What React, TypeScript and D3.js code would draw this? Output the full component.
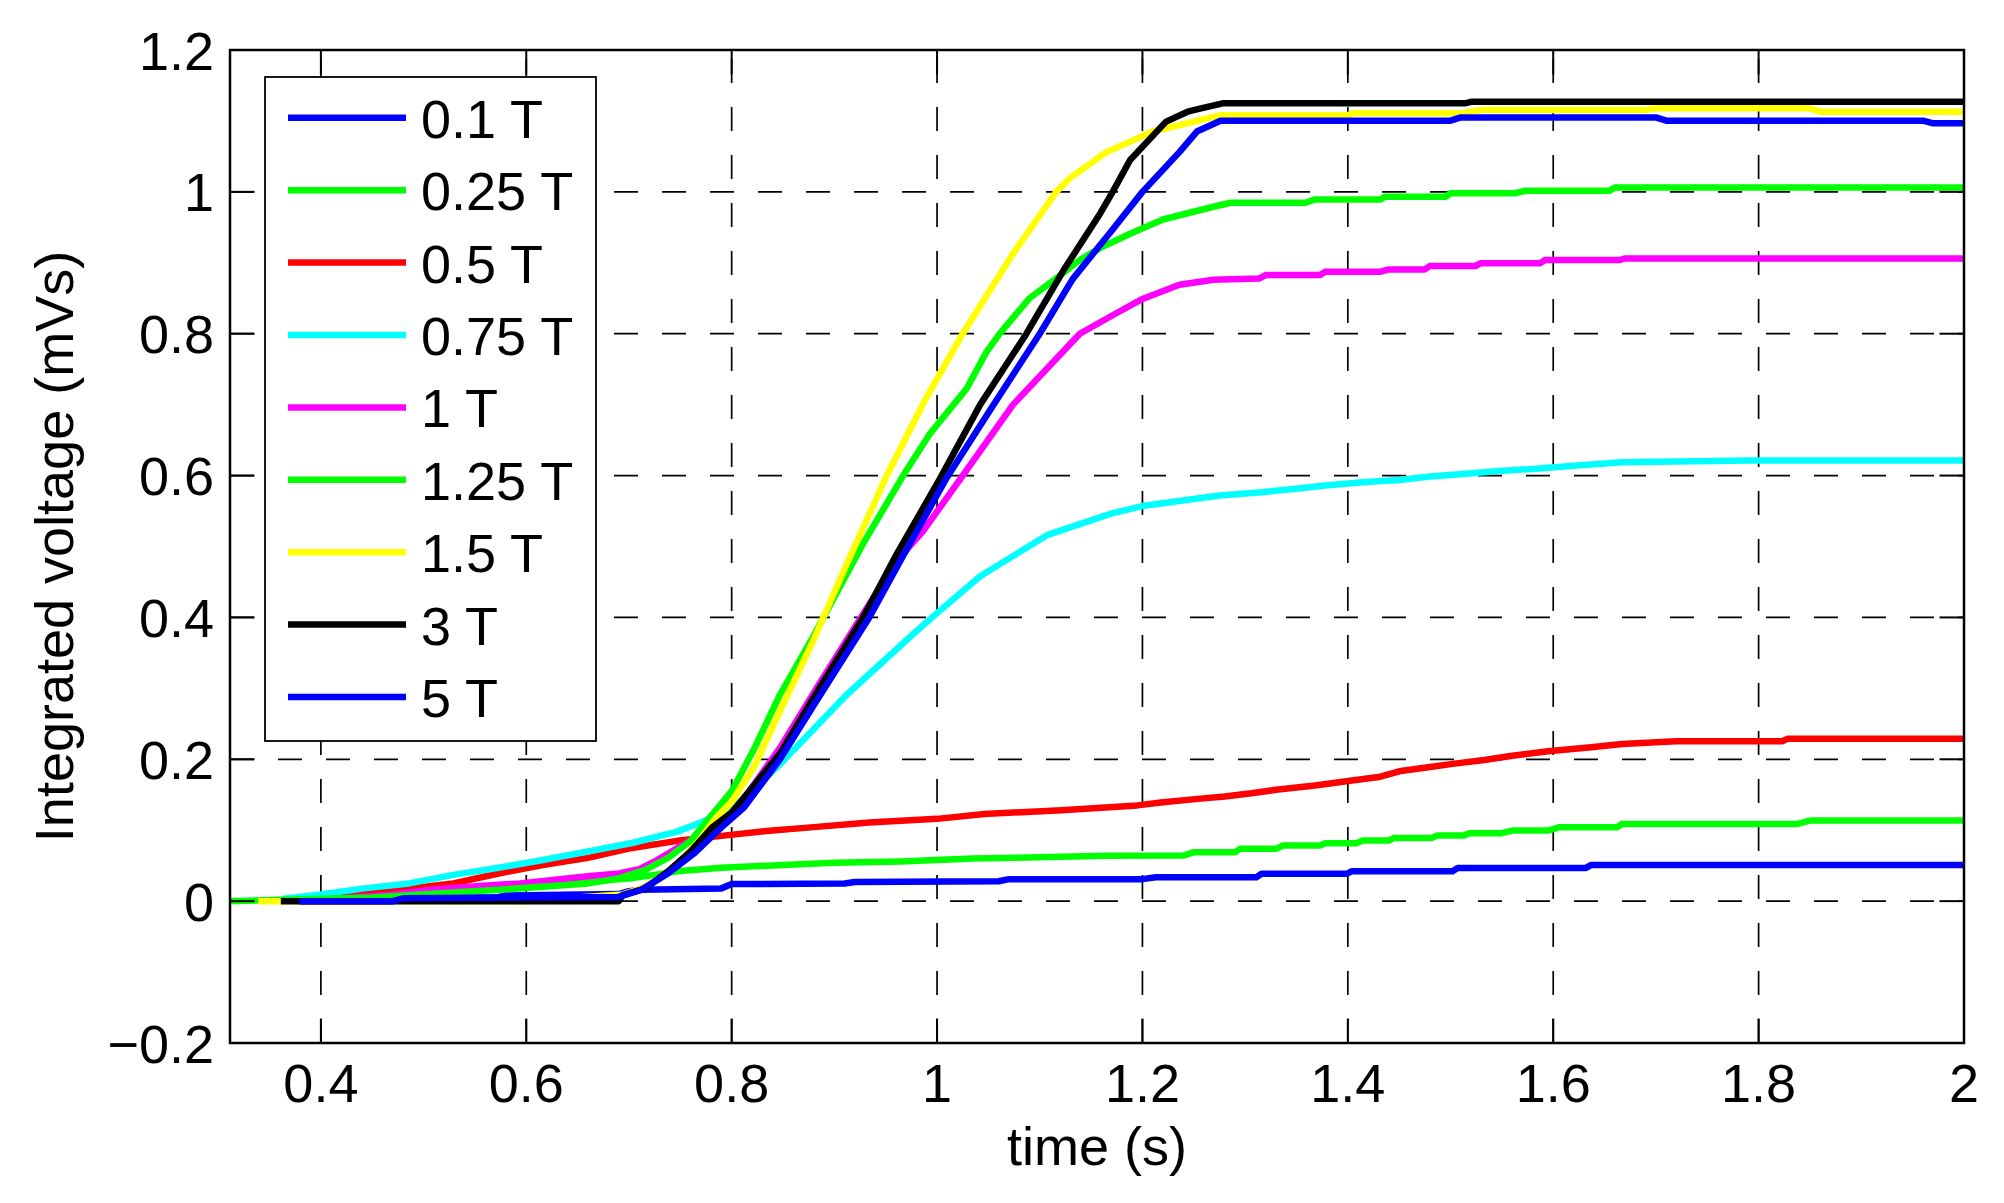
import React from "react";
import * as d3 from "d3";

// ---- data (time in s, integrated voltage in mVs) ----
const labels = ["0.1 T", "0.25 T", "0.5 T", "0.75 T", "1 T", "1.25 T", "1.5 T", "3 T", "5 T"];
const colors = ["#0000ff", "#00ff00", "#ff0000", "#00ffff", "#ff00ff", "#00ff00", "#ffff00", "#000000", "#0000ff"];

const s01: [number, number][] = [
  [0.38, 0], [0.47, 0], [0.475, 0.004], [0.57, 0.005], [0.58, 0.008], [0.69, 0.01], [0.70, 0.014],
  [0.712, 0.016], [0.79, 0.018], [0.8, 0.024], [0.91, 0.025], [0.92, 0.027], [1.06, 0.028], [1.07, 0.031],
  [1.2, 0.031], [1.213, 0.0338], [1.311, 0.0338], [1.316, 0.0385], [1.399, 0.0385], [1.404, 0.0422],
  [1.502, 0.0422], [1.507, 0.0469], [1.632, 0.0469], [1.637, 0.0511], [2.0, 0.0511],
];
const s025: [number, number][] = [
  [0.38, 0], [0.44, 0.0085], [0.53, 0.016], [0.62, 0.024], [0.7, 0.032], [0.725, 0.037], [0.747, 0.042],
  [0.79, 0.047], [0.834, 0.05], [0.9, 0.054], [0.964, 0.056], [1.035, 0.06], [1.165, 0.064], [1.24, 0.0643],
  [1.25, 0.069], [1.29, 0.069], [1.295, 0.0737], [1.33, 0.0737], [1.337, 0.0784], [1.373, 0.0784],
  [1.378, 0.0817], [1.409, 0.0817], [1.414, 0.0854], [1.44, 0.0854], [1.445, 0.0892], [1.482, 0.0892],
  [1.487, 0.0925], [1.513, 0.0925], [1.518, 0.0958], [1.55, 0.0958], [1.56, 0.0995], [1.595, 0.0995],
  [1.606, 0.1042], [1.662, 0.1042], [1.667, 0.1089], [1.838, 0.1089], [1.85, 0.1136], [2.0, 0.1136],
];
const s05: [number, number][] = [
  [0.38, 0], [0.44, 0.01], [0.486, 0.018], [0.529, 0.025], [0.573, 0.039], [0.616, 0.051], [0.66, 0.061],
  [0.703, 0.075], [0.747, 0.085], [0.79, 0.092], [0.834, 0.099], [0.877, 0.104], [0.934, 0.111], [1.0, 0.116],
  [1.046, 0.123], [1.121, 0.128], [1.195, 0.135], [1.22, 0.1395], [1.254, 0.1442], [1.28, 0.1475],
  [1.306, 0.152], [1.33, 0.157], [1.368, 0.163], [1.404, 0.17], [1.43, 0.175], [1.45, 0.183], [1.48, 0.189],
  [1.502, 0.1935], [1.533, 0.199], [1.56, 0.205], [1.595, 0.2114], [1.637, 0.217], [1.667, 0.2217],
  [1.72, 0.2255], [1.823, 0.2255], [1.828, 0.2288], [2.0, 0.2288],
];
const s075: [number, number][] = [
  [0.362, 0.003], [0.4, 0.0095], [0.442, 0.018], [0.486, 0.025], [0.529, 0.037], [0.573, 0.047],
  [0.616, 0.058], [0.66, 0.07], [0.703, 0.082], [0.747, 0.098], [0.77, 0.111], [0.8, 0.13], [0.822, 0.158],
  [0.847, 0.193], [0.912, 0.291], [0.977, 0.377], [1.0, 0.406], [1.042, 0.458], [1.107, 0.516],
  [1.171, 0.547], [1.2, 0.557], [1.25, 0.567], [1.275, 0.5718],
  [1.316, 0.5765], [1.347, 0.5812], [1.378, 0.586], [1.414, 0.5906], [1.45, 0.5939], [1.48, 0.5986],
  [1.512, 0.6023], [1.544, 0.6061], [1.58, 0.6094], [1.62, 0.614], [1.667, 0.6188], [1.79, 0.6211], [2.0, 0.6211],
];
const s1: [number, number][] = [
  [0.38, 0], [0.464, 0.0085], [0.507, 0.016], [0.551, 0.021], [0.594, 0.025], [0.66, 0.035], [0.69, 0.039],
  [0.71, 0.045], [0.725, 0.056], [0.747, 0.075], [0.768, 0.092], [0.8, 0.12], [0.847, 0.216], [0.886, 0.308],
  [0.928, 0.405], [0.961, 0.48], [0.986, 0.521], [1.025, 0.6], [1.074, 0.7], [1.139, 0.8], [1.171, 0.826],
  [1.2, 0.849], [1.236, 0.869], [1.269, 0.876], [1.314, 0.878], [1.32, 0.8827], [1.373, 0.8827],
  [1.378, 0.8874], [1.432, 0.8874], [1.44, 0.8907], [1.475, 0.8907], [1.48, 0.8954], [1.524, 0.8954],
  [1.529, 0.8992], [1.587, 0.8992], [1.592, 0.9039], [1.665, 0.9039], [1.67, 0.9062], [2.0, 0.9062],
];
const s125: [number, number][] = [
  [0.3115, 0], [0.45, 0.005], [0.573, 0.016], [0.66, 0.025], [0.69, 0.032], [0.716, 0.044], [0.738, 0.061],
  [0.76, 0.085], [0.777, 0.115], [0.8, 0.155], [0.822, 0.215], [0.847, 0.291], [0.879, 0.372], [0.928, 0.504],
  [0.967, 0.6], [0.993, 0.659], [1.029, 0.723], [1.048, 0.774], [1.061, 0.8], [1.09, 0.85], [1.116, 0.878],
  [1.139, 0.904], [1.159, 0.921], [1.188, 0.941], [1.22, 0.961], [1.269, 0.979], [1.286, 0.9847],
  [1.359, 0.9847], [1.368, 0.9894], [1.432, 0.9894], [1.436, 0.993], [1.495, 0.993],
  [1.5, 0.998], [1.563, 0.998], [1.573, 1.0016], [1.655, 1.0016], [1.66, 1.0063], [2.0, 1.0063],
];
const s15: [number, number][] = [
  [0.339, 0], [0.6, 0], [0.638, 0.004], [0.694, 0.0095], [0.712, 0.018], [0.729, 0.032], [0.747, 0.051],
  [0.768, 0.085], [0.785, 0.118], [0.8, 0.14], [0.822, 0.19], [0.847, 0.268], [0.879, 0.366], [0.912, 0.475],
  [0.951, 0.6], [0.99, 0.711], [1.025, 0.8], [1.074, 0.913], [1.116, 1.0], [1.13, 1.02], [1.165, 1.056],
  [1.21, 1.085], [1.257, 1.1015], [1.276, 1.108], [1.4, 1.108], [1.405, 1.1107],
  [1.51, 1.1107], [1.53, 1.1153], [1.69, 1.1153], [1.7, 1.1177], [1.85, 1.1177], [1.86, 1.113], [2.0, 1.113],
];
const s3: [number, number][] = [
  [0.361, 0], [0.69, 0], [0.694, 0.0086], [0.716, 0.018], [0.738, 0.042], [0.76, 0.07], [0.781, 0.104],
  [0.8, 0.125], [0.847, 0.208], [0.879, 0.285], [0.928, 0.4], [0.961, 0.49], [1.003, 0.596], [1.042, 0.7],
  [1.087, 0.8], [1.123, 0.889], [1.159, 0.97], [1.171, 1.0], [1.188, 1.045], [1.223, 1.099], [1.244, 1.113],
  [1.257, 1.1177], [1.278, 1.1248], [1.514, 1.1248], [1.52, 1.127], [2.0, 1.127],
];
const s5: [number, number][] = [
  [0.379, 0], [0.47, 0], [0.48, 0.004], [0.69, 0.006], [0.712, 0.016], [0.738, 0.039], [0.764, 0.068],
  [0.79, 0.104], [0.812, 0.132], [0.847, 0.2], [0.879, 0.274], [0.934, 0.4], [0.967, 0.487], [1.009, 0.596],
  [1.055, 0.7], [1.1, 0.8], [1.132, 0.877], [1.171, 0.947], [1.2, 1.0], [1.236, 1.056], [1.253, 1.085],
  [1.276, 1.1003], [1.5, 1.1003], [1.51, 1.105], [1.7, 1.105], [1.71, 1.1003], [1.96, 1.1003],
  [1.97, 1.0966], [2.0, 1.0966],
];

const xTicks = [0.4, 0.6, 0.8, 1, 1.2, 1.4, 1.6, 1.8, 2];
const yTicks = [-0.2, 0, 0.2, 0.4, 0.6, 0.8, 1, 1.2];
const xDomain: [number, number] = [0.3115, 2];
const yDomain: [number, number] = [-0.2, 1.2];
const xTitle = "time (s)";
const yTitle = "Integrated voltage (mVs)";

const seriesData = [s01, s025, s05, s075, s1, s125, s15, s3, s5];

// ---- layout ----
const W = 2004;
const H = 1203;
const L = 230, R = 1964, T = 50, B = 1043;
const FONT = "'Liberation Sans', Arial, Helvetica, sans-serif";
const FS = 54;

export default function App() {
  const x = d3.scaleLinear().domain(xDomain).range([L, R]);
  const y = d3.scaleLinear().domain(yDomain).range([B, T]);
  const line = d3.line<[number, number]>().x((d) => x(d[0])).y((d) => y(d[1]));
  const fmt = (v: number) => {
    const s = d3.format("~g")(Math.round(v * 100) / 100);
    return s.replace("-", "\u2212");
  };

  const legX = 265, legY = 77, legW = 331, legH = 664;
  const entry0 = 117.8, entryStep = 72.4;

  return (
    <svg
      width={W}
      height={H}
      viewBox={`0 0 ${W} ${H}`}
      style={{ position: "absolute", left: 0, top: 0, display: "block", background: "#fff" }}
      fontFamily={FONT}
    >
      <rect x={0} y={0} width={W} height={H} fill="#fff" />
      <defs>
        <clipPath id="plotclip">
          <rect x={L} y={T} width={R - L} height={B - T} />
        </clipPath>
      </defs>
      {/* grid */}
      <g stroke="#000" strokeWidth={1.7} strokeDasharray="24 24" fill="none">
        {xTicks.map((t) => (
          <line key={"gx" + t} x1={x(t)} x2={x(t)} y1={B} y2={T} />
        ))}
        {yTicks.map((t) => (
          <line key={"gy" + t} x1={L} x2={R} y1={y(t)} y2={y(t)} />
        ))}
      </g>
      {/* curves */}
      <g clipPath="url(#plotclip)" fill="none" strokeWidth={6.5} strokeLinejoin="round" strokeLinecap="butt">
        {seriesData.map((d, i) => (
          <path key={"s" + i} d={line(d) || ""} stroke={colors[i]} />
        ))}
      </g>
      {/* axes box and ticks */}
      <g stroke="#000" strokeWidth={2} fill="none">
        {xTicks.map((t) => (
          <g key={"tx" + t}>
            <line x1={x(t)} x2={x(t)} y1={B} y2={B - 24.5} />
            <line x1={x(t)} x2={x(t)} y1={T} y2={T + 24.5} />
          </g>
        ))}
        {yTicks.map((t) => (
          <g key={"ty" + t}>
            <line x1={L} x2={L + 24.5} y1={y(t)} y2={y(t)} />
            <line x1={R} x2={R - 24.5} y1={y(t)} y2={y(t)} />
          </g>
        ))}
        <rect x={L} y={T} width={R - L} height={B - T} strokeWidth={2.5} />
      </g>
      {/* tick labels */}
      <g fontSize={FS} fill="#000">
        {xTicks.map((t) => (
          <text key={"lx" + t} x={x(t)} y={1102} textAnchor="middle">
            {fmt(t)}
          </text>
        ))}
        {yTicks.map((t) => (
          <text key={"ly" + t} x={214} y={y(t) + 19.5} textAnchor="end">
            {fmt(t)}
          </text>
        ))}
      </g>
      {/* axis titles */}
      <text x={(L + R) / 2} y={1165} textAnchor="middle" fontSize={FS} fill="#000">
        {xTitle}
      </text>
      <text
        transform={`translate(73, ${(T + B) / 2}) rotate(-90)`}
        textAnchor="middle"
        fontSize={FS}
        fill="#000"
      >
        {yTitle}
      </text>
      {/* legend */}
      <g>
        <rect x={legX} y={legY} width={legW} height={legH} fill="#fff" stroke="#000" strokeWidth={1.8} />
        {labels.map((lab, i) => {
          const yy = entry0 + i * entryStep;
          return (
            <g key={"lg" + i}>
              <line x1={288} x2={406} y1={yy} y2={yy} stroke={colors[i]} strokeWidth={6.5} />
              <text x={421} y={yy + 20} fontSize={FS} fill="#000">
                {lab}
              </text>
            </g>
          );
        })}
      </g>
    </svg>
  );
}
